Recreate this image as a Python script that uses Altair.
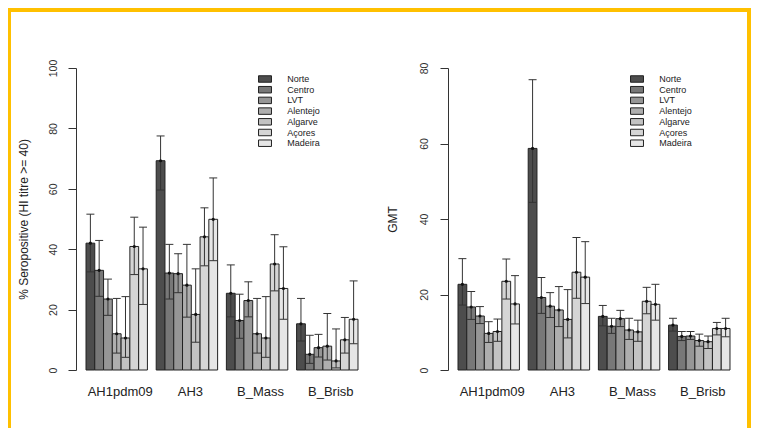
import altair as alt
import pandas as pd

groups = ["AH1pdm09", "AH3", "B_Mass", "B_Brisb"]
regions = ["Norte", "Centro", "LVT", "Alentejo", "Algarve", "Açores", "Madeira"]
colors = ["#4d4d4d", "#787878", "#969696", "#aeaeae", "#c3c3c3", "#d5d5d5", "#e6e6e6"]

# % seropositive (HI titre >= 40), one list per antigen, ordered as regions
sero_mean = [
    [42.0, 33.0, 23.5, 12.0, 10.6, 40.9, 33.5],
    [69.3, 32.1, 31.9, 28.1, 18.4, 44.1, 49.9],
    [25.4, 16.4, 23.0, 12.0, 10.6, 35.1, 27.0],
    [15.3, 5.2, 7.4, 7.9, 3.0, 10.0, 16.8],
]
sero_lo = [
    [32.5, 24.4, 18.1, 5.6, 4.2, 31.6, 21.7],
    [59.6, 23.5, 25.6, 17.5, 9.2, 34.5, 36.2],
    [17.6, 10.5, 17.6, 5.6, 4.2, 26.2, 16.8],
    [9.6, 2.2, 4.3, 3.3, 0.7, 5.6, 8.7],
]
sero_hi = [
    [51.6, 42.9, 30.1, 23.7, 24.3, 50.6, 47.3],
    [77.5, 41.6, 38.5, 41.6, 33.5, 53.7, 63.6],
    [34.8, 25.1, 29.2, 23.7, 24.3, 44.8, 40.8],
    [23.7, 11.5, 11.8, 18.7, 13.6, 17.4, 29.5],
]

# GMT
gmt_mean = [
    [22.7, 16.7, 14.3, 9.7, 10.2, 23.5, 17.5],
    [58.7, 19.2, 16.9, 15.9, 13.4, 25.9, 24.6],
    [14.2, 11.6, 13.6, 10.6, 10.1, 18.2, 17.4],
    [11.9, 8.9, 9.0, 7.8, 7.5, 11.0, 11.0],
]
gmt_lo = [
    [17.2, 13.4, 12.3, 7.3, 7.6, 18.8, 12.2],
    [44.4, 15.0, 13.9, 11.5, 8.5, 19.0, 17.6],
    [11.7, 9.7, 11.5, 8.1, 7.6, 14.9, 13.2],
    [10.3, 7.8, 8.1, 6.3, 5.7, 9.3, 8.8],
]
gmt_hi = [
    [29.5, 20.8, 16.8, 12.8, 13.5, 29.4, 25.0],
    [76.9, 24.5, 20.5, 22.1, 21.3, 35.1, 34.0],
    [17.1, 13.7, 15.8, 13.7, 13.2, 21.9, 22.7],
    [13.7, 10.2, 10.2, 9.5, 9.0, 12.6, 13.7],
]

FONT = "Liberation Sans"
YELLOW = "#ffc000"
INK = "#222222"


def build(mean, lo, hi):
    rows = []
    for gi, g in enumerate(groups):
        for ri, r in enumerate(regions):
            rows.append(dict(group=g, region=r, mean=mean[gi][ri],
                             lo=lo[gi][ri], hi=hi[gi][ri]))
    return pd.DataFrame(rows)


def panel(df, ymax, yvalues, title, title_x, label_pad, frame_layers):
    x = alt.X("group:N", sort=groups,
              scale=alt.Scale(paddingInner=0.125, paddingOuter=0.1425),
              axis=alt.Axis(title=None, domain=False, ticks=False, tickSize=0,
                            labelAngle=0, labelFont=FONT, labelFontSize=13,
                            labelColor=INK, labelBaseline="alphabetic",
                            labelPadding=25, labelOffset=3.5))
    xo = alt.XOffset("region:N", sort=regions,
                     scale=alt.Scale(paddingInner=0, paddingOuter=0))
    yscale = alt.Scale(domain=[0, ymax], nice=False, zero=True)
    yaxis = alt.Axis(title=title, values=yvalues, grid=False, tickSize=8,
                     tickColor="#333", domainColor="#333",
                     labelAngle=270, labelAlign="center",
                     labelBaseline="alphabetic", labelPadding=label_pad,
                     labelFont=FONT, labelFontSize=10.5, labelColor="#333",
                     titleFont=FONT, titleFontSize=12, titleFontWeight="normal",
                     titleColor=INK, titleAngle=270, titleAlign="center",
                     titleBaseline="middle", titleX=title_x, titleY=151)
    color = alt.Color("region:N", sort=regions,
                      scale=alt.Scale(domain=regions, range=colors),
                      legend=alt.Legend(title=None, orient="none",
                                        legendX=184.5, legendY=6.5,
                                        symbolType="M-2,-1H2V1H-2Z",
                                        symbolSize=42,
                                        symbolStrokeColor=INK,
                                        symbolStrokeWidth=1,
                                        symbolOpacity=1,
                                        labelFont=FONT, labelFontSize=9,
                                        labelColor=INK, labelOffset=17.75,
                                        rowPadding=-0.3, padding=0))
    base = alt.Chart(df)
    bars = base.mark_bar(stroke=INK, strokeWidth=1, opacity=1).encode(
        x=x, xOffset=xo,
        y=alt.Y("mean:Q", scale=yscale, axis=yaxis),
        color=color)
    rules = base.mark_rule(color="#333", strokeWidth=1).encode(
        x=x, xOffset=xo, y=alt.Y("lo:Q", scale=yscale), y2="hi:Q")
    cap_lo = base.mark_tick(color="#333", size=8, thickness=1, opacity=1).encode(
        x=x, xOffset=xo, y=alt.Y("lo:Q", scale=yscale))
    cap_hi = base.mark_tick(color="#333", size=8, thickness=1, opacity=1).encode(
        x=x, xOffset=xo, y=alt.Y("hi:Q", scale=yscale))
    dots = base.mark_point(filled=True, size=10, color="#111", opacity=1).encode(
        x=x, xOffset=xo, y=alt.Y("mean:Q", scale=yscale))
    return alt.layer(*frame_layers, bars, rules, cap_lo, cap_hi, dots).properties(
        width=292, height=302)


frame_df = pd.DataFrame({"f": [0]})


def band(x1, x2, y1, y2):
    return alt.Chart(frame_df).mark_rect(color=YELLOW).encode(
        x=alt.value(x1), x2=alt.value(x2), y=alt.value(y1), y2=alt.value(y2))


left = panel(build(sero_mean, sero_lo, sero_hi), 100, [0, 20, 40, 60, 80, 100],
             "% Seropositive (HI titre >= 40)", -53, 12,
             [band(-68, 304, -60, -56), band(-68, -65, -60, 360)])
right = panel(build(gmt_mean, gmt_lo, gmt_hi), 80, [0, 20, 40, 60, 80],
              "GMT", -56, 13,
              [band(-72, 303, -60, -56), band(299, 303, -60, 360)])

chart = alt.hconcat(left, right, spacing=80, bounds="flush").resolve_scale(
    color="independent", x="independent", y="independent"
).resolve_legend(color="independent").properties(
    padding=0, background="white"
).configure_view(stroke=None)

chart.save("out.html", embed_options={"renderer": "svg", "actions": False})
